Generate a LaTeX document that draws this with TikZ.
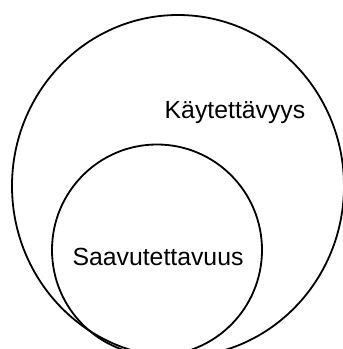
\documentclass[tikz,border=0pt]{standalone}
\usepackage{fontspec}
\setmainfont{Liberation Sans}
\usetikzlibrary{shapes.geometric}
\tikzstyle{area} = [
    ellipse,
    draw=black,
    line width=1.8pt,
    inner sep=0pt
]
\tikzstyle{areatext} = [
    font=\fontsize{24.8}{30}\selectfont,
    text=black
]

\begin{document}
\begin{tikzpicture}[x=1pt, y=-1pt]

\clip (0,0) rectangle (343,349);
\useasboundingbox (0,0) rectangle (343,349);

\node (usability) [area, minimum width=332pt, minimum height=342pt] at (178,186) {};

\node (accessibility) [area, minimum width=210pt, minimum height=211pt] at (157,250) {};

\node (usabilitytext) [areatext] at (235,113) {Käytettävyys};

\node (accessibilitytext) [areatext] at (158,257) {Saavutettavuus};

\end{tikzpicture}
\end{document}
